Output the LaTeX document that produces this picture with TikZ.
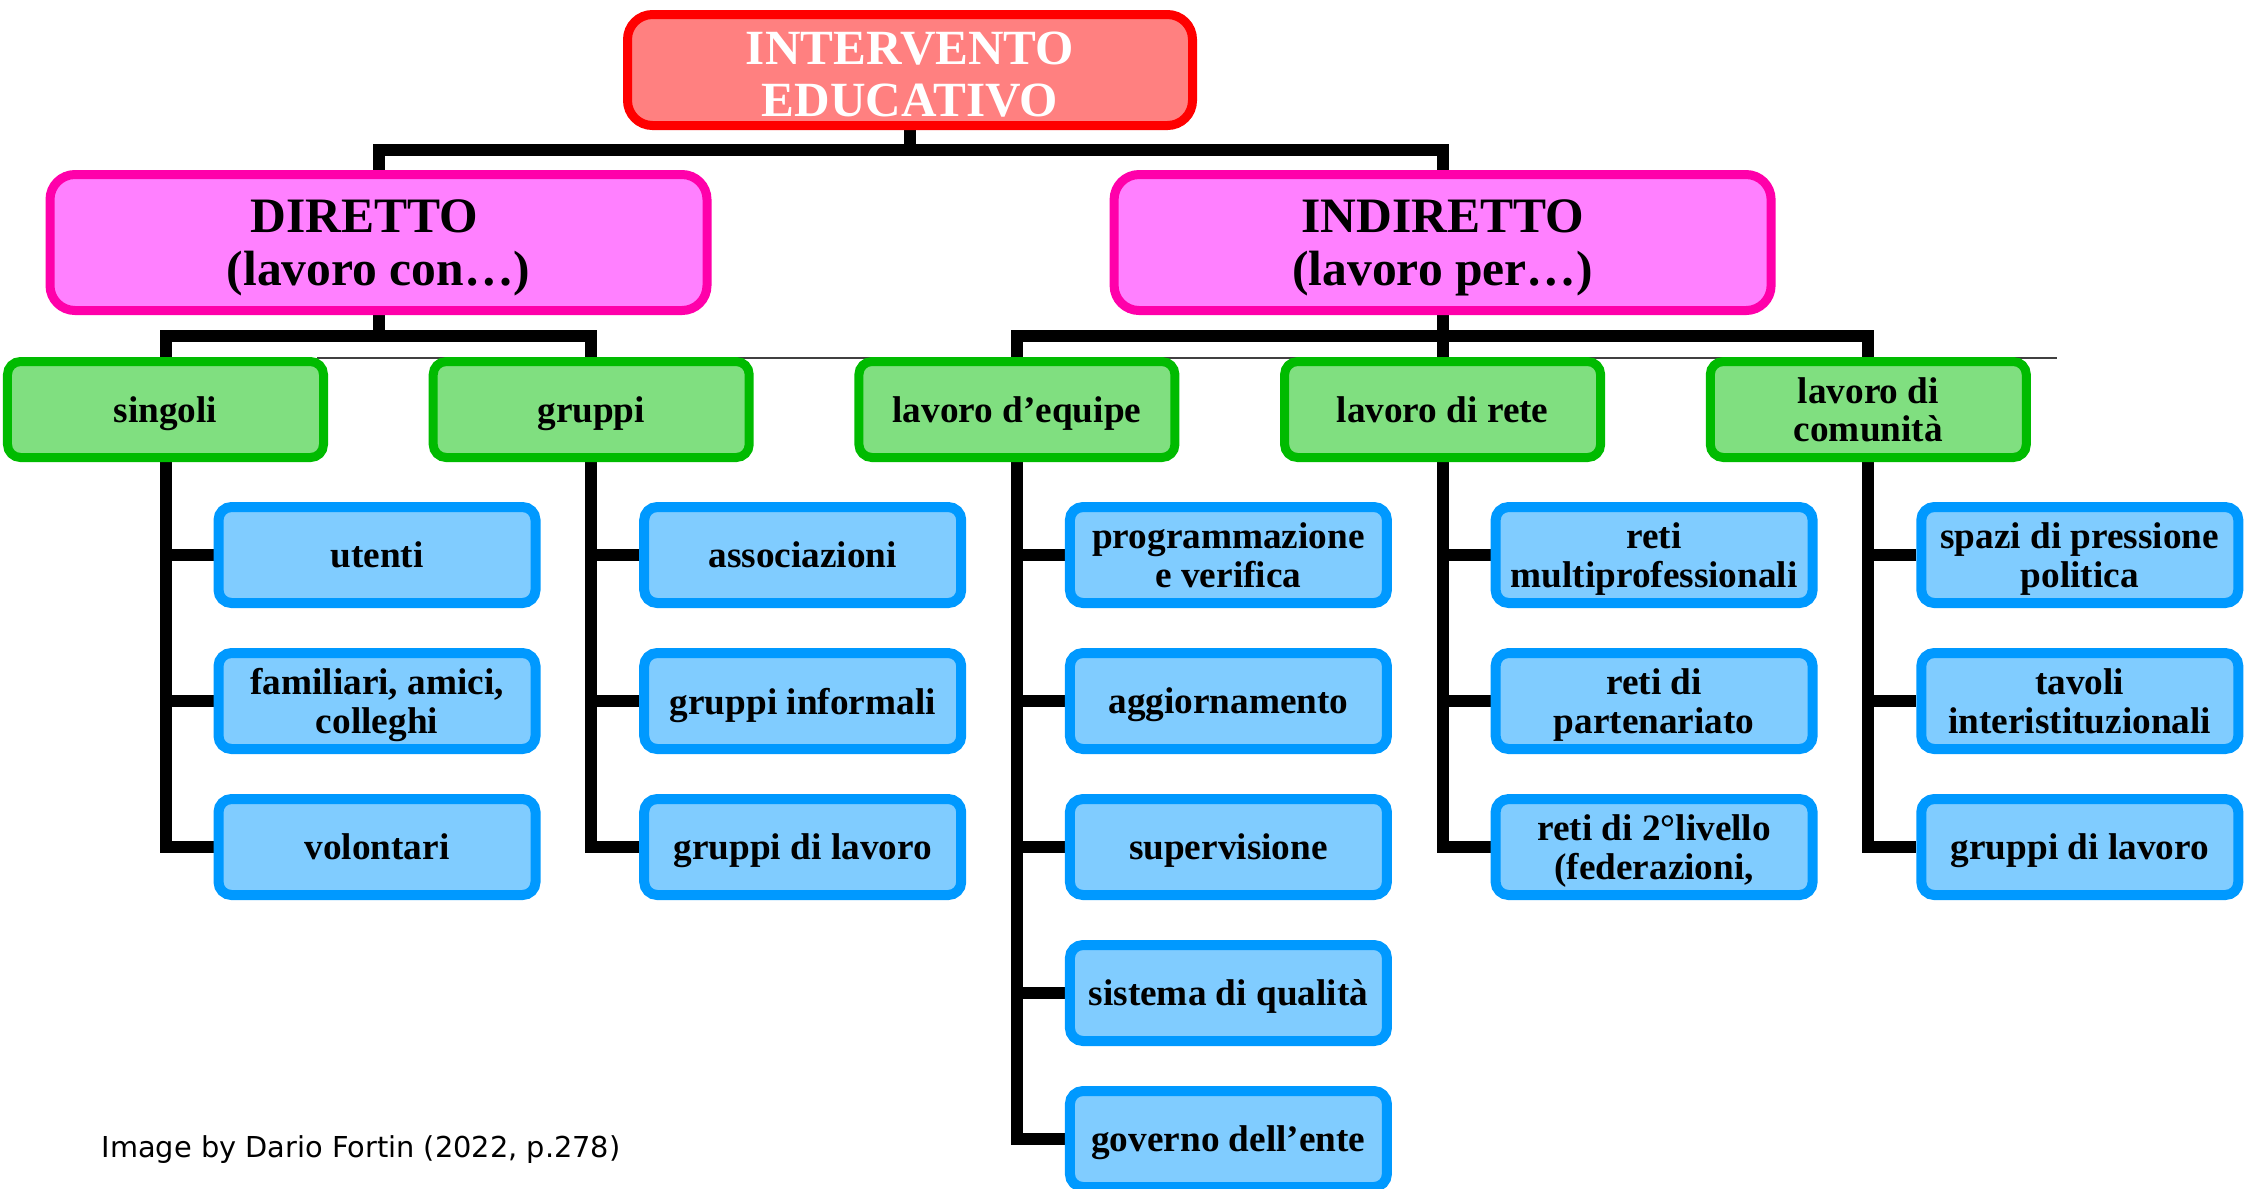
\documentclass[tikz,border=0pt]{standalone}
\usepackage{fontspec}
\setmainfont{Liberation Serif}
\newfontfamily\creditfont{DejaVu Sans}
\usepackage{tikz}
\usetikzlibrary{backgrounds}

\definecolor{rootfill}{HTML}{FF8080}
\definecolor{rootline}{HTML}{FF0000}
\definecolor{mainfill}{HTML}{FF80FF}
\definecolor{mainline}{HTML}{FF00AA}
\definecolor{subfill}{HTML}{80DF80}
\definecolor{subline}{HTML}{00BB00}
\definecolor{leaffill}{HTML}{80CCFF}
\definecolor{leafline}{HTML}{0099FF}

\begin{document}
\begin{tikzpicture}[x=1cm,y=-1cm,
        box/.style={inner sep=0pt, align=center, text depth=0pt},
        root/.style={box, draw=rootline, fill=rootfill, line width=0.09cm, rounded corners=0.25cm,
            minimum width=5.65cm, minimum height=1.11cm, text=white, text height=26.7pt,
            font=\fontsize{14}{14.8}\selectfont\bfseries},
        main/.style={box, draw=mainline, fill=mainfill, line width=0.09cm, rounded corners=0.25cm,
            minimum width=6.57cm, minimum height=1.36cm,
            font=\fontsize{14.1}{15.1}\selectfont\bfseries},
        sub/.style={box, draw=subline, fill=subfill, line width=0.09cm, rounded corners=0.13cm,
            minimum width=3.16cm, minimum height=0.96cm,
            font=\fontsize{10.6}{10.9}\selectfont\bfseries},
        leaf/.style={sub, draw=leafline, fill=leaffill, line width=0.1cm, minimum width=3.17cm},
        link/.style={line width=0.12cm, black},
        rule/.style={line width=0.02cm, black!75}]
        \useasboundingbox (0,0) rectangle (22.46,11.88);

        % Top node
        \node[root] (root) at (9.10,0.70) {INTERVENTO\\EDUCATIVO};

        % The two kinds of intervention
        \node[main] (dir) at (3.785,2.425) {DIRETTO\hspace*{8pt}\\(lavoro con…)};
        \node[main] (ind) at (14.426,2.425) {INDIRETTO\\(lavoro per…)};

        % Second level
        \def\rowS{4.095}
        \node[sub] (sing) at (1.655,\rowS) {singoli};
        \node[sub] (grup) at (5.912,\rowS) {gruppi};
        \node[sub] (equi) at (10.169,\rowS) {lavoro d’equipe};
        \node[sub] (rete) at (14.426,\rowS) {lavoro di rete};
        \node[sub] (comu) at (18.683,\rowS) {lavoro di\\comunità};

        % Leaves, one column under each second level node
        \node[leaf] (sing1) at (3.770,5.55) {utenti};
        \node[leaf] (sing2) at (3.770,7.01) {familiari, amici,\\colleghi};
        \node[leaf] (sing3) at (3.770,8.47) {volontari};

        \node[leaf] (grup1) at (8.027,5.55) {associazioni};
        \node[leaf] (grup2) at (8.027,7.01) {gruppi informali};
        \node[leaf] (grup3) at (8.027,8.47) {gruppi di lavoro};

        \node[leaf] (equi1) at (12.284,5.55) {programmazione\\e verifica};
        \node[leaf] (equi2) at (12.284,7.01) {aggiornamento};
        \node[leaf] (equi3) at (12.284,8.47) {supervisione};
        \node[leaf] (equi4) at (12.284,9.93) {sistema di qualità};
        \node[leaf] (equi5) at (12.284,11.39) {governo dell’ente};

        \node[leaf] (rete1) at (16.541,5.55) {reti\\multiprofessionali};
        \node[leaf] (rete2) at (16.541,7.01) {reti di\\partenariato};
        \node[leaf] (rete3) at (16.541,8.47) {reti di 2°livello\\(federazioni,};

        \node[leaf] (comu1) at (20.798,5.55) {spazi di pressione\\politica};
        \node[leaf] (comu2) at (20.798,7.01) {tavoli\\interistituzionali};
        \node[leaf] (comu3) at (20.798,8.47) {gruppi di lavoro};

        % Source
        \node[anchor=base west, inner sep=0pt, font=\creditfont\fontsize{8.2}{9.5}\selectfont] (credit)
            at (1.01,11.57) {Image by Dario Fortin (2022, p.278)};

        % Connectors, behind the boxes
        \begin{scope}[on background layer]
            \coordinate (ruleW) at (3.17,3.58);
            \coordinate (ruleE) at (20.57,3.58);
            \draw[rule] (ruleW) -- (ruleE);

            \coordinate (topbar) at (9.10,1.50);
            \draw[link] (root.south) -- (topbar);
            \draw[link] (dir.north) |- (topbar) -| (ind.north);

            \coordinate (dirbar) at (3.785,3.36);
            \coordinate (indbar) at (14.426,3.36);
            \draw[link] (dir.south) -- (dirbar);
            \draw[link] (sing.north) |- (dirbar) -| (grup.north);
            \draw[link] (ind.south) -- (rete.north);
            \draw[link] (equi.north) |- (indbar) -| (comu.north);

            % trunks and branches
            \foreach \col/\n in {sing/3,grup/3,equi/5,rete/3,comu/3} {
                \draw[link] (\col.south) |- (\col\n.west);
                \foreach \k in {1,...,\n}
                    \draw[link] (\col.south |- \col\k.west) -- (\col\k.west);
            }
        \end{scope}
    \end{tikzpicture}
\end{document}
